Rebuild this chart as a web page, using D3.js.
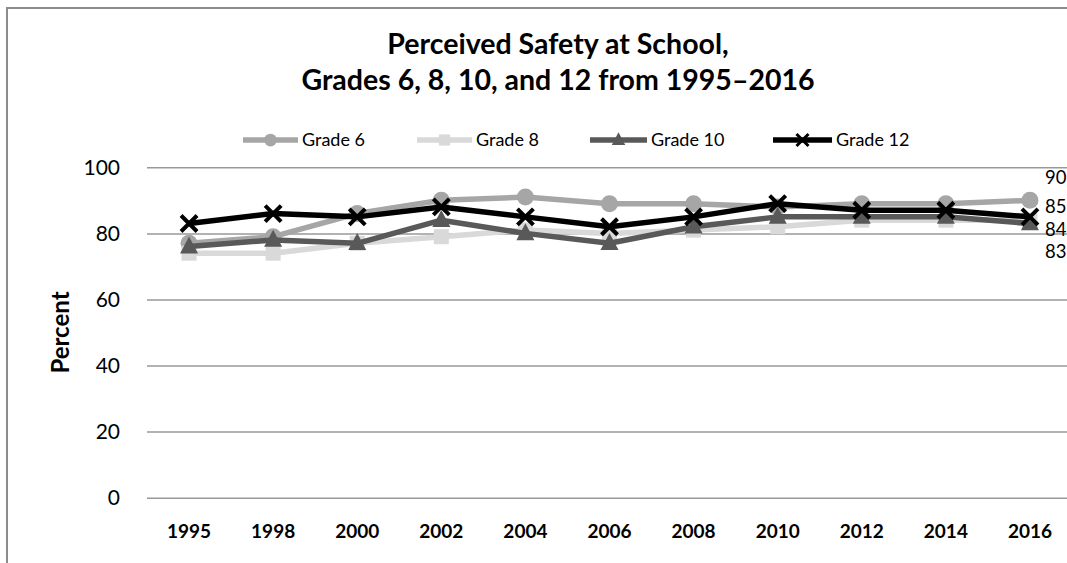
<!DOCTYPE html>
<html>
<head>
<meta charset="utf-8">
<script src="https://cdn.jsdelivr.net/npm/d3@7"></script>
<style>
  html, body { margin: 0; padding: 0; background: #fff; overflow: hidden; }
  svg { display: block; }
</style>
</head>
<body>
<svg id="chart" width="1067" height="563"></svg>
<script>
// ---- data ----
const years = ["1995","1998","2000","2002","2004","2006","2008","2010","2012","2014","2016"];
const grade6  = [77, 79, 86, 90, 91, 89, 89, 88, 89, 89, 90];
const grade8  = [74, 74, 77, 79, 81, 80, 81, 82, 84, 84, 84];
const grade10 = [76, 78, 77, 84, 80, 77, 82, 85, 85, 85, 83];
const grade12 = [83, 86, 85, 88, 85, 82, 85, 89, 87, 87, 85];
const seriesNames = ["Grade 6", "Grade 8", "Grade 10", "Grade 12"];
const yTicks = [0, 20, 40, 60, 80, 100];
const titleLines = ["Perceived Safety at School,", "Grades 6, 8, 10, and 12 from 1995\u20132016"];
const yTitle = "Percent";

// ---- styles ----
const styles = [
  { color: "#a6a6a6", marker: "circle",   labelDy: -23 },
  { color: "#d9d9d9", marker: "square",   labelDy: 9 },
  { color: "#595959", marker: "triangle", labelDy: 28 },
  { color: "#000000", marker: "cross",    labelDy: -10 }
];
const seriesValues = [grade6, grade8, grade10, grade12];
const series = seriesNames.map((n, i) => ({ name: n, values: seriesValues[i], style: styles[i] }));

const svg = d3.select("#chart");
const font = "Lato, 'Open Sans', sans-serif";

// frame
svg.append("path")
  .attr("d", "M7,563 L7,8 L1067,8")
  .attr("fill", "none").attr("stroke", "#8c8c8c").attr("stroke-width", 2);

// scales
const x = d3.scaleBand().domain(years).range([147, 1072]).padding(0);
const y = d3.scaleLinear().domain([0, 100]).range([497.7, 167.3]);

// title
svg.append("g").selectAll("text").data(titleLines).join("text")
  .attr("x", 558).attr("y", (d, i) => 54 + i * 36)
  .attr("text-anchor", "middle")
  .attr("font-family", font).attr("font-weight", "bold").attr("font-size", 28.5)
  .attr("fill", "#000").text(d => d);

// gridlines
const yAxis = d3.axisLeft(y).tickValues(yTicks).tickSize(-(1072 - 147)).tickPadding(27);
const gy = svg.append("g").attr("transform", "translate(147,0)").call(yAxis);
gy.select(".domain").remove();
gy.selectAll(".tick line").attr("stroke", "#999").attr("stroke-width", 1.5);
gy.selectAll(".tick text").attr("font-family", font).attr("font-size", 21).attr("fill", "#000");

// x axis labels
const xAxis = d3.axisBottom(x).tickSize(0).tickPadding(27);
const gx = svg.append("g").attr("transform", "translate(0,497.7)").call(xAxis);
gx.select(".domain").remove();
gx.selectAll(".tick text").attr("font-family", font).attr("font-weight", "bold").attr("font-size", 19).attr("fill", "#000");

// y title
svg.append("text")
  .attr("transform", `translate(69,${(y(0) + y(100)) / 2}) rotate(-90)`)
  .attr("text-anchor", "middle")
  .attr("font-family", font).attr("font-weight", "bold").attr("font-size", 24)
  .text(yTitle);

// markers
function drawMarker(g, type, color, cx, cy, s) {
  if (type === "circle") {
    g.append("circle").attr("cx", cx).attr("cy", cy).attr("r", 8.5 * s).attr("fill", color);
  } else if (type === "square") {
    g.append("rect").attr("x", cx - 7.5 * s).attr("y", cy - 7.5 * s)
      .attr("width", 15 * s).attr("height", 15 * s).attr("fill", color);
  } else if (type === "triangle") {
    const h = 17 * s, w = 18 * s;
    g.append("path").attr("d", `M${cx},${cy - h * 0.6} L${cx + w / 2},${cy + h * 0.4} L${cx - w / 2},${cy + h * 0.4} Z`).attr("fill", color);
  } else {
    const r = 8 * s;
    g.append("path").attr("d", `M${cx - r},${cy - r} L${cx + r},${cy + r} M${cx - r},${cy + r} L${cx + r},${cy - r}`)
      .attr("stroke", color).attr("stroke-width", 4 * s).attr("fill", "none");
  }
}

const line = d3.line().x((d, i) => x(years[i]) + x.bandwidth() / 2).y(d => y(d));

series.forEach(s => {
  const g = svg.append("g");
  g.append("path").datum(s.values).attr("d", line)
    .attr("fill", "none").attr("stroke", s.style.color).attr("stroke-width", 5.5)
    .attr("stroke-linejoin", "round");
  s.values.forEach((v, i) => drawMarker(g, s.style.marker, s.style.color, x(years[i]) + x.bandwidth() / 2, y(v), 1));
});

// end labels
series.forEach(s => {
  const last = s.values.length - 1;
  svg.append("text")
    .attr("x", x(years[last]) + x.bandwidth() / 2 + 15)
    .attr("y", y(s.values[last]) + s.style.labelDy)
    .attr("dy", "0.35em")
    .attr("font-family", font).attr("font-size", 18.5).attr("fill", "#000")
    .text(s.values[last]);
});

// legend
const legendX = [243, 417, 590, 773];
const legendW = [55, 55, 57, 59];
const lg = svg.append("g");
series.forEach((s, i) => {
  const g = lg.append("g");
  g.append("line").attr("x1", legendX[i]).attr("x2", legendX[i] + legendW[i])
    .attr("y1", 140).attr("y2", 140).attr("stroke", s.style.color).attr("stroke-width", 5.5);
  drawMarker(g, s.style.marker, s.style.color, legendX[i] + legendW[i] / 2, 140, 0.75);
  g.append("text").attr("x", legendX[i] + legendW[i] + 4).attr("y", 140).attr("dy", "0.35em")
    .attr("font-family", font).attr("font-size", 18).attr("fill", "#000").text(s.name);
});
</script>
</body>
</html>
